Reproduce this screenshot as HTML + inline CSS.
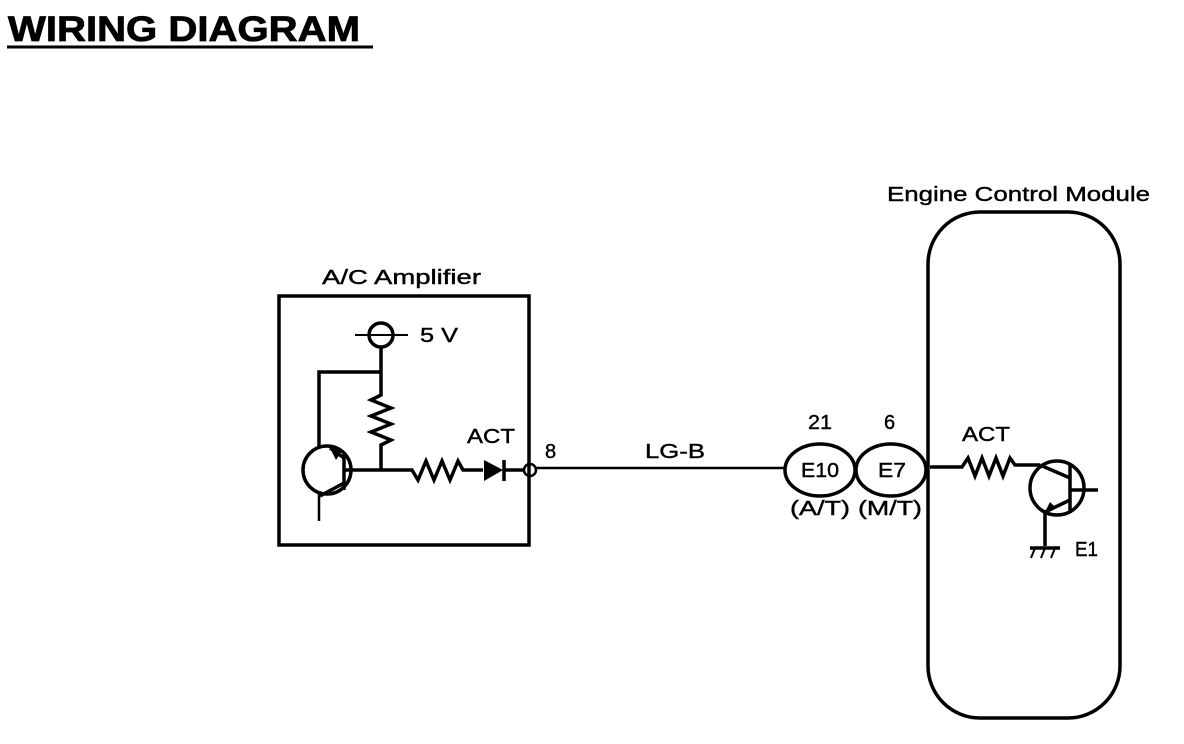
<!DOCTYPE html>
<html><head><meta charset="utf-8"><style>
html,body{margin:0;padding:0;background:#fff;width:1184px;height:744px;overflow:hidden}
svg{display:block}
text{font-family:"Liberation Sans",sans-serif;fill:#000}
</style></head><body>
<svg width="1184" height="744" viewBox="0 0 1184 744" xmlns="http://www.w3.org/2000/svg">
<text x="8" y="41" font-size="35" font-weight="bold" textLength="352" lengthAdjust="spacingAndGlyphs" stroke="#000" stroke-width="0.8">WIRING DIAGRAM</text>
<line x1="7" y1="47" x2="373" y2="47" stroke="#000" stroke-width="3"/>
<g fill="none" stroke="#000" stroke-width="3.5">
<rect x="279" y="296" width="250" height="249"/>
<circle cx="381" cy="335" r="12"/>
<line x1="355" y1="335" x2="408" y2="335" stroke-width="2"/>
<polyline points="381,347 381,395 371,400 391,408 371,416 391,424 371,432 391,440 381,445 381,470"/>
<polyline points="381,372 319,372 319,447"/>
<circle cx="327" cy="470" r="24"/>
<line x1="344" y1="452" x2="344" y2="490"/>
<line x1="344" y1="470" x2="405" y2="470"/>
<line x1="344" y1="458" x2="330" y2="448"/>
<line x1="344" y1="483" x2="320" y2="496"/>
<line x1="319" y1="494" x2="319" y2="521" stroke-width="2.5"/>
<polyline points="405,470 412,470 418,480 426,461 434,480 442,461 450,480 458,461 463,470 483,470"/>
<line x1="504" y1="460" x2="504" y2="481"/>
<line x1="504" y1="470" x2="524" y2="470"/>
<circle cx="530" cy="470" r="6" stroke-width="2.5"/>
<line x1="536" y1="468" x2="785" y2="468" stroke-width="2.5"/>
<ellipse cx="820" cy="470" rx="35" ry="26"/>
<ellipse cx="891" cy="470" rx="35" ry="26"/>
<rect x="928" y="212" width="192" height="506" rx="52" ry="52"/>
<polyline points="930,467 962,467 968,458 975,476 982,458 989,476 996,458 1003,476 1010,458 1015,465 1040,465"/>
<circle cx="1057" cy="488" r="27"/>
<line x1="1070" y1="465" x2="1070" y2="513"/>
<line x1="1070" y1="490" x2="1098" y2="490"/>
<line x1="1040" y1="465" x2="1070" y2="478"/>
<line x1="1045" y1="512" x2="1070" y2="500"/>
<line x1="1045" y1="512" x2="1045" y2="546"/>
<line x1="1030" y1="548" x2="1060" y2="548"/>
<line x1="1035" y1="548" x2="1031" y2="558" stroke-width="2"/>
<line x1="1045" y1="548" x2="1041" y2="558" stroke-width="2"/>
<line x1="1055" y1="548" x2="1051" y2="558" stroke-width="2"/>
</g>
<polygon points="484,460 484,481 503,470" fill="#000"/>
<polygon points="1045,512 1050,502 1056,508" fill="#000"/>
<polygon points="330,448 342,451 336,460" fill="#000"/>
<g font-size="20" stroke="#000" stroke-width="0.4">
<text x="322" y="284" textLength="159" lengthAdjust="spacingAndGlyphs">A/C Amplifier</text>
<text x="420" y="342" textLength="38" lengthAdjust="spacingAndGlyphs">5 V</text>
<text x="467" y="443" textLength="48" lengthAdjust="spacingAndGlyphs">ACT</text>
<text x="545" y="458">8</text>
<text x="645" y="458" textLength="60" lengthAdjust="spacingAndGlyphs">LG-B</text>
<text x="808" y="429" textLength="24" lengthAdjust="spacingAndGlyphs">21</text>
<text x="884" y="429">6</text>
<text x="801" y="477" textLength="38" lengthAdjust="spacingAndGlyphs">E10</text>
<text x="878" y="477" textLength="28" lengthAdjust="spacingAndGlyphs">E7</text>
<text x="790" y="515" textLength="60" lengthAdjust="spacingAndGlyphs">(A/T)</text>
<text x="858" y="515" textLength="64" lengthAdjust="spacingAndGlyphs">(M/T)</text>
<text x="887" y="201" textLength="263" lengthAdjust="spacingAndGlyphs">Engine Control Module</text>
<text x="962" y="441" textLength="48" lengthAdjust="spacingAndGlyphs">ACT</text>
<text x="1075" y="556" textLength="23" lengthAdjust="spacingAndGlyphs">E1</text>
</g>
</svg>
</body></html>
